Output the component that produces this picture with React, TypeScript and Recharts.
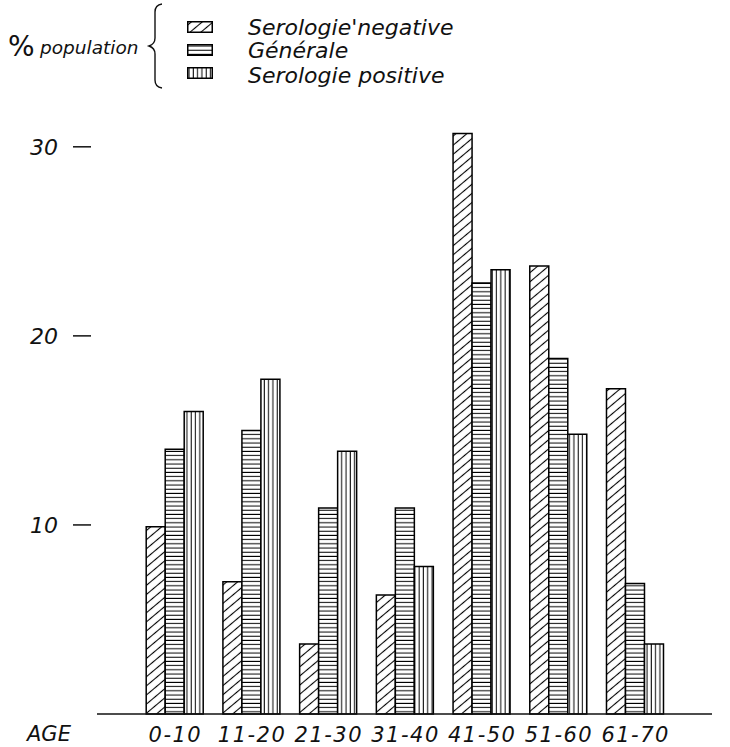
import { BarChart, Bar, XAxis, YAxis } from "recharts";

const categories = ["0-10", "11-20", "21-30", "31-40", "41-50", "51-60", "61-70"];
const negative = [9.9, 7.0, 3.7, 6.3, 30.7, 23.7, 17.2];
const generale = [14.0, 15.0, 10.9, 10.9, 22.8, 18.8, 6.9];
const positive = [16.0, 17.7, 13.9, 7.8, 23.5, 14.8, 3.7];
const yTicks = [10, 20, 30];

const seriesLabels = ["Serologie'negative", "Générale", "Serologie positive"];

const data = categories.map((cat, i) => ({
  cat,
  neg: negative[i],
  gen: generale[i],
  pos: positive[i],
}));

const font = "'DejaVu Sans', sans-serif";

function XTick(props: any) {
  const { x, y, payload } = props;
  return (
    <text x={x} y={y} dy={20} textAnchor="middle" fontFamily={font} fontStyle="italic" fontSize={21} letterSpacing={1.5} fill="#111">
      {payload.value}
    </text>
  );
}

function YTick(props: any) {
  const { x, y, payload } = props;
  return (
    <g>
      <line x1={x - 16} x2={x + 2} y1={y} y2={y} stroke="#111" strokeWidth={1.5} />
      <text x={x - 31} y={y} dy={8} textAnchor="end" fontFamily={font} fontStyle="italic" fontSize={22} fill="#111">
        {payload.value}
      </text>
    </g>
  );
}

function Patterns() {
  return (
    <svg width={0} height={0} style={{ position: "absolute" }}>
      <defs>
        <pattern id="pNeg" width="7" height="7" patternUnits="userSpaceOnUse" patternTransform="rotate(-40)">
          <rect width="7" height="7" fill="#fff" />
          <line x1="0" y1="3.5" x2="7" y2="3.5" stroke="#000" strokeWidth="1.1" />
        </pattern>
        <pattern id="pGen" width="4" height="4.2" patternUnits="userSpaceOnUse">
          <rect width="4" height="4.2" fill="#fff" />
          <line x1="0" y1="2" x2="4" y2="2" stroke="#000" strokeWidth="1" />
        </pattern>
        <pattern id="pPos" width="4.3" height="4" patternUnits="userSpaceOnUse">
          <rect width="4.3" height="4" fill="#fff" />
          <line x1="2" y1="0" x2="2" y2="4" stroke="#000" strokeWidth="1" />
        </pattern>
      </defs>
    </svg>
  );
}

const textStyle: React.CSSProperties = {
  position: "absolute",
  fontFamily: font,
  fontStyle: "italic",
  fontSize: 21,
  color: "#111",
  lineHeight: "22px",
  whiteSpace: "nowrap",
};

export default function App() {
  const swatches = ["pNeg", "pGen", "pPos"];
  const swatchTop = [21, 44, 67];
  const labelTop = [17, 40, 65];
  return (
    <div style={{ position: "absolute", left: 0, top: 0, width: 730, height: 747, background: "#fff" }}>
      <Patterns />
      <div style={{ ...textStyle, left: 8, top: 33, fontSize: 28, lineHeight: "28px", fontStyle: "normal" }}>%</div>
      <div style={{ ...textStyle, left: 40, top: 37, fontSize: 18.5 }}>population</div>
      <svg style={{ position: "absolute", left: 146, top: 2 }} width={20} height={88}>
        <path d="M16 2 Q9 3 9 10 L9 36 Q9 42 3 44 Q9 46 9 52 L9 78 Q9 85 16 86" fill="none" stroke="#111" strokeWidth={1.4} />
      </svg>
      {swatches.map((id, i) => (
        <svg key={id} style={{ position: "absolute", left: 187, top: swatchTop[i] }} width={26} height={12}>
          <rect x={0.75} y={0.75} width={24.5} height={10.5} fill={`url(#${id})`} stroke="#000" strokeWidth={1.5} />
        </svg>
      ))}
      {seriesLabels.map((t, i) => (
        <div key={t} style={{ ...textStyle, left: 248, top: labelTop[i], fontSize: 22 }}>{t}</div>
      ))}
      <div style={{ ...textStyle, left: 27, top: 723 }}>AGE</div>
      <div style={{ position: "absolute", left: 0, top: 0 }}>
        <BarChart
          width={730}
          height={747}
          data={data}
          margin={{ top: 109, right: 18, bottom: 0, left: 0 }}
          barCategoryGap="12%"
          barGap={0}
        >
          <XAxis
            dataKey="cat"
            height={33}
            padding={{ left: 40, right: 38 }}
            tickLine={false}
            axisLine={{ stroke: "#111", strokeWidth: 1.5 }}
            tick={<XTick />}
            interval={0}
          />
          <YAxis
            width={97}
            domain={[0, 32]}
            ticks={yTicks}
            axisLine={false}
            tickLine={false}
            tick={<YTick />}
          />
          <Bar dataKey="neg" fill="url(#pNeg)" stroke="#000" strokeWidth={1.5} isAnimationActive={false} />
          <Bar dataKey="gen" fill="url(#pGen)" stroke="#000" strokeWidth={1.5} isAnimationActive={false} />
          <Bar dataKey="pos" fill="url(#pPos)" stroke="#000" strokeWidth={1.5} isAnimationActive={false} />
        </BarChart>
      </div>
    </div>
  );
}
